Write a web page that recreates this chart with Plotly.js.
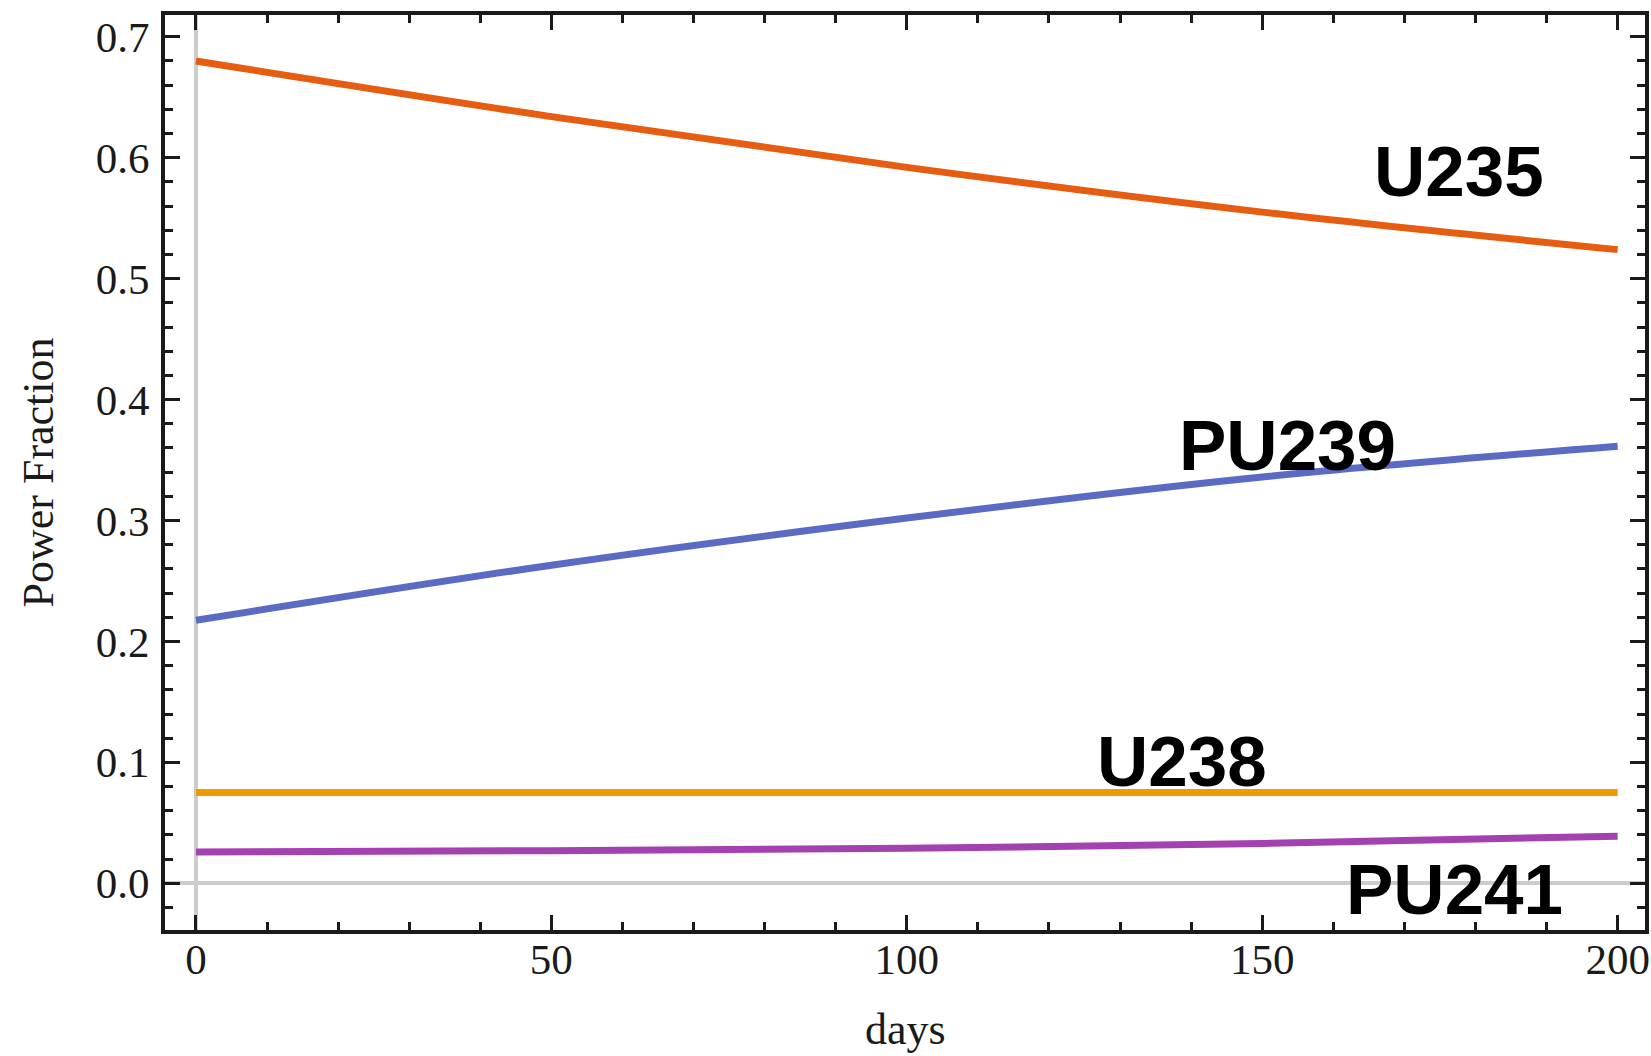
<!DOCTYPE html>
<html>
<head>
<meta charset="utf-8">
<script src="https://cdn.plot.ly/plotly-3.0.1.min.js"></script>
<style>
  html, body { margin: 0; padding: 0; background: #fff; }
  #chart { width: 1651px; height: 1056px; }
</style>
</head>
<body>
<div id="chart"></div>
<script>
// Data
const days = [0, 50, 100, 150, 200];
const u235 = [0.680, 0.634, 0.592, 0.555, 0.524];
const pu239 = [0.2175, 0.263, 0.302, 0.336, 0.3615];
const u238 = [0.075, 0.075, 0.075, 0.075, 0.075];
const pu241 = [0.026, 0.027, 0.029, 0.033, 0.039];

const seriesNames = ["U235", "PU239", "U238", "PU241"];
const seriesValues = [u235, pu239, u238, pu241];
const seriesColors = ["#E65C10", "#5B6BC4", "#EE9B00", "#A441B1"];

// Label positions (data coords)
const labelX = [177.7, 153.5, 138.7, 177.1];
const labelY = [0.589, 0.362, 0.101, -0.005];

const xTitle = "days";
const yTitle = "Power Fraction";

const traces = seriesNames.map((n, i) => ({
  x: days,
  y: seriesValues[i],
  name: n,
  type: "scatter",
  mode: "lines",
  line: { color: seriesColors[i], width: 7, shape: "spline" },
  hoverinfo: "skip"
}));

const serif = "Liberation Serif, Times New Roman, serif";
const axisCommon = {
  showline: true,
  linecolor: "#1a1a1a",
  linewidth: 4,
  mirror: "allticks",
  ticks: "inside",
  ticklen: 15,
  tickwidth: 3,
  tickcolor: "#1a1a1a",
  showgrid: false,
  zeroline: true,
  zerolinecolor: "#cccccc",
  zerolinewidth: 4,
  tickfont: { family: serif, size: 43, color: "#1a1a1a" }
};

const labelAnnotations = seriesNames.map((n, i) => ({
  x: labelX[i],
  y: labelY[i],
  xref: "x",
  yref: "y",
  text: n,
  showarrow: false,
  xanchor: "center",
  yanchor: "middle",
  font: { family: "Liberation Sans, Arial, sans-serif", size: 71, color: "#000000", weight: "bold" }
}));

const layout = {
  width: 1651,
  height: 1056,
  paper_bgcolor: "#ffffff",
  plot_bgcolor: "#ffffff",
  showlegend: false,
  margin: { l: 165, r: 6, t: 15, b: 126 },
  xaxis: Object.assign({}, axisCommon, {
    range: [-4.35, 203.85],
    tickmode: "linear",
    tick0: 0,
    dtick: 50,
    ticklabelstandoff: -12,
    minor: { dtick: 10, tick0: 0, ticks: "inside", ticklen: 8, tickwidth: 3, tickcolor: "#1a1a1a", showgrid: false }
  }),
  yaxis: Object.assign({}, axisCommon, {
    range: [-0.0386, 0.718],
    tickmode: "linear",
    tick0: 0,
    dtick: 0.1,
    tickformat: ".1f",
    ticklabelstandoff: 3,
    minor: { dtick: 0.02, tick0: 0, ticks: "inside", ticklen: 8, tickwidth: 3, tickcolor: "#1a1a1a", showgrid: false },
    title: { text: yTitle, font: { family: serif, size: 44, color: "#1a1a1a" }, standoff: 29 }
  }),
  annotations: labelAnnotations.concat([{
    x: 0.5,
    y: -0.1372,
    xref: "paper",
    yref: "paper",
    text: xTitle,
    showarrow: false,
    xanchor: "center",
    yanchor: "bottom",
    font: { family: serif, size: 44, color: "#1a1a1a" }
  }])
};

Plotly.newPlot("chart", traces, layout, { staticPlot: true, displayModeBar: false });
</script>
</body>
</html>
